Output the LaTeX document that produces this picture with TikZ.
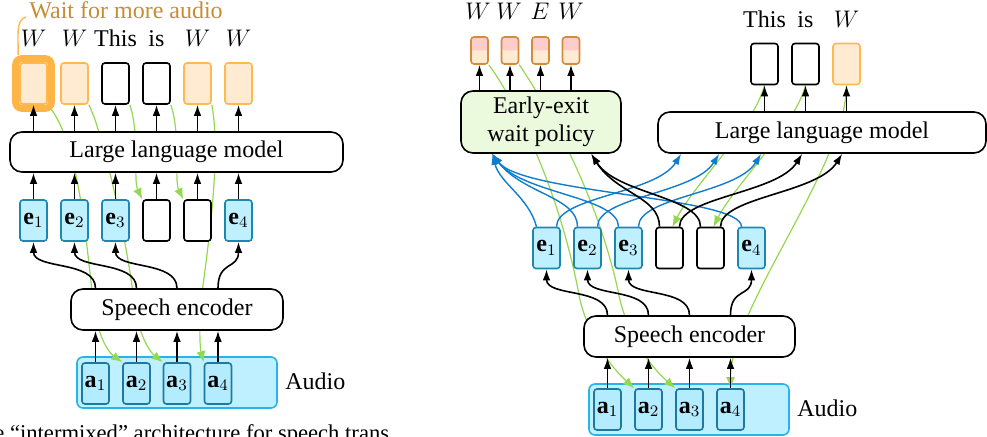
\documentclass[tikz,border=0pt]{standalone}
\usepackage{fontspec}
\setmainfont{Liberation Serif}
\usetikzlibrary{arrows.meta,fit,calc}
\pgfdeclarelayer{bottom}
\pgfdeclarelayer{greenl}
\pgfsetlayers{bottom,greenl,main}
\definecolor{orF}{HTML}{FFEBD2}
\definecolor{orB}{HTML}{FFB950}
\definecolor{haloC}{HTML}{FFB446}
\definecolor{waitC}{HTML}{C88C32}
\definecolor{eF}{HTML}{BEF0FF}
\definecolor{eB}{HTML}{1E87AF}
\definecolor{audF}{HTML}{BEF0FF}
\definecolor{audB}{HTML}{28B4E6}
\definecolor{aF}{HTML}{B4ECFF}
\definecolor{aB}{HTML}{1E78A0}
\definecolor{gC}{HTML}{96D750}
\definecolor{bC}{HTML}{0F7DCD}
\definecolor{polF}{HTML}{EBFADC}
\definecolor{pinkF}{HTML}{FFCCCC}
\definecolor{pB}{HTML}{D28C3C}
\begin{document}
\begin{tikzpicture}[x=0.5pt,y=-0.5pt, font=\fontsize{12}{14}\selectfont,
  tok/.style={rounded corners=1.5pt, minimum width=13.5pt, minimum height=20.5pt, inner sep=0pt, line width=0.8pt},
  wtok/.style={tok, draw=orB, fill=orF},
  btok/.style={tok, draw=black, fill=white},
  etok/.style={tok, draw=eB, fill=eF},
  atok/.style={tok, draw=aB, fill=aF},
  ptok/.style={rounded corners=1.5pt, minimum width=8.5pt, minimum height=13.5pt, inner sep=0pt, line width=0.8pt, draw=pB, fill=orF,
    path picture={\fill[pinkF] (path picture bounding box.north west) rectangle (path picture bounding box.east);}},
  bigbox/.style={draw, rounded corners=6pt, line width=0.8pt, fill=white, inner sep=0pt},
  audbox/.style={draw=audB, fill=audF, rounded corners=3pt, line width=0.8pt, minimum width=100pt, minimum height=25.5pt},
  lbl/.style={anchor=base, inner sep=0pt},
  arr/.style={-{Latex[length=5.5pt,width=3.8pt]}, line width=0.8pt},
  garr/.style={-{Latex[length=5.5pt,width=4.5pt]}, line width=0.6pt, draw=gC},
  barr/.style={-{Latex[length=5.5pt,width=3.8pt]}, line width=0.7pt, draw=bC},
]
\useasboundingbox (0,0) rectangle (987,437);
\clip (0,0) rectangle (987,437);

% ================= LEFT =================
\node[wtok] (lo1) at (33.5,83.5) {};
\node[wtok] (lo2) at (74.5,83.5) {};
\node[btok] (lo3) at (115.5,83.5) {};
\node[btok] (lo4) at (156.5,83.5) {};
\node[wtok] (lo5) at (197.5,83.5) {};
\node[wtok] (lo6) at (238.5,83.5) {};
\node[fit=(lo1), inner sep=1.75pt, draw=haloC, line width=3.5pt, rounded corners=3pt] (halo) {};

\node[lbl] (lt1) at (33.5,47) {$W$};
\node[lbl] (lt2) at (74.5,47) {$W$};
\node[lbl] (lt3) at (115.5,47) {This};
\node[lbl] (lt4) at (156.5,47) {is};
\node[lbl] (lt5) at (197.5,47) {$W$};
\node[lbl] (lt6) at (238.5,47) {$W$};

\node[anchor=base west, inner sep=0pt, text=waitC] (wait) at (29,19) {Wait for more audio};
\draw[orB, line width=0.7pt] ([shift={(-1.5pt,1pt)}]wait.base west) .. controls +(-10,3) and +(0,-22) .. ([xshift=3pt]halo.north west);

\node[bigbox, minimum width=166.5pt, minimum height=20pt] (llmL) at (176.5,152) {Large language model};

\node[etok] (le1) at (33.5,220.5) {$\mathbf{e}_1$};
\node[etok] (le2) at (74.5,220.5) {$\mathbf{e}_2$};
\node[etok] (le3) at (115.5,220.5) {$\mathbf{e}_3$};
\node[btok] (lb4) at (156.5,220.5) {};
\node[btok] (lb5) at (197.5,220.5) {};
\node[etok] (le4) at (238.5,220.5) {$\mathbf{e}_4$};

\node[bigbox, minimum width=106pt, minimum height=20.5pt] (encL) at (177,309.5) {Speech encoder};

\begin{pgfonlayer}{bottom}
\node[audbox] (audL) at (177,382.5) {};
\node[audbox] (audR) at (689,409.5) {};
\end{pgfonlayer}
\node[atok] (la1) at (95.5,383.5) {$\mathbf{a}_1$};
\node[atok] (la2) at (136.5,383.5) {$\mathbf{a}_2$};
\node[atok] (la3) at (177,383.5) {$\mathbf{a}_3$};
\node[atok] (la4) at (218,383.5) {$\mathbf{a}_4$};
\node[anchor=west, inner sep=0pt] (audLblL) at (285,381) {Audio};

\foreach \i in {1,2,3,4} {
  \draw[arr] (la\i.north) -- (la\i.north |- encL.south);
  \draw[arr] (la\i.north |- encL.north) .. controls +(0,-28) and +(0,28) .. (le\i.south);
}
\foreach \n in {le1,le2,le3,lb4,lb5,le4} {
  \draw[arr] (\n.north) -- (\n.north |- llmL.south);
}
\foreach \n in {lo1,lo2,lo3,lo4,lo5,lo6} {
  \draw[arr] (\n.south |- llmL.north) -- (\n.south);
}

\begin{pgfonlayer}{greenl}
\draw[garr] (lo1.south east) .. controls (78,140) and (85,230) .. (93,300) .. controls (97,335) and (108,352) .. (la2.north west);
\draw[garr] (lo2.south east) .. controls (102,130) and (125,230) .. (134,300) .. controls (138,335) and (150,352) .. (la3.north west);
\draw[garr] (lo3.south east) .. controls (140,135) and (133,180) .. (lb4.north west);
\draw[garr] (lo4.south east) .. controls (181,135) and (174,180) .. (lb5.north west);
\draw[garr] (lo5.south east) .. controls (220,150) and (212,220) .. (201,300) .. controls (199,330) and (200,348) .. (la4.north west);
\end{pgfonlayer}

% ================= RIGHT =================
\node[ptok] (p1) at (479.5,50.5) {};
\node[ptok] (p2) at (510,50.5) {};
\node[ptok] (p3) at (540.5,50.5) {};
\node[ptok] (p4) at (571,50.5) {};
\node[lbl] (pt1) at (478,20) {$W$};
\node[lbl] (pt2) at (509,20) {$W$};
\node[lbl] (pt3) at (540,20) {$E$};
\node[lbl] (pt4) at (571,20) {$W$};

\node[bigbox, fill=polF, minimum width=80pt, minimum height=31pt, align=center] (pol) at (541,122) {Early-exit\\wait policy};
\foreach \n in {p1,p2,p3,p4} {
  \draw[arr] (\n.south |- pol.north) -- (\n.south);
}

\node[bigbox, minimum width=164pt, minimum height=20.5pt] (llmR) at (822,132.5) {Large language model};
\node[btok] (ro1) at (764.5,64) {};
\node[btok] (ro2) at (805.5,64) {};
\node[wtok] (ro3) at (846.5,64) {};
\node[lbl] (rt1) at (764.5,28) {This};
\node[lbl] (rt2) at (805.5,28) {is};
\node[lbl] (rt3) at (846.5,28) {$W$};
\foreach \n in {ro1,ro2,ro3} {
  \draw[arr] (\n.south |- llmR.north) -- (\n.south);
}

\node[etok] (re1) at (546.5,248) {$\mathbf{e}_1$};
\node[etok] (re2) at (587.5,248) {$\mathbf{e}_2$};
\node[etok] (re3) at (628.5,248) {$\mathbf{e}_3$};
\node[btok] (rb1) at (669.5,248) {};
\node[btok] (rb2) at (710.5,248) {};
\node[etok] (re4) at (751.5,248) {$\mathbf{e}_4$};

\node[bigbox, minimum width=105.5pt, minimum height=20.5pt] (encR) at (689.5,336.5) {Speech encoder};
\node[atok] (ra1) at (607.5,409.5) {$\mathbf{a}_1$};
\node[atok] (ra2) at (648.5,409.5) {$\mathbf{a}_2$};
\node[atok] (ra3) at (689.5,409.5) {$\mathbf{a}_3$};
\node[atok] (ra4) at (730.5,409.5) {$\mathbf{a}_4$};
\node[anchor=west, inner sep=0pt] (audLblR) at (797,408) {Audio};

\foreach \i in {1,2,3,4} {
  \draw[arr] (ra\i.north) -- (ra\i.north |- encR.south);
  \draw[arr] (ra\i.north |- encR.north) .. controls +(0,-28) and +(0,28) .. (re\i.south);
}

\coordinate (polB) at ([xshift=16pt]pol.south west);
\coordinate (polK) at ([xshift=65.5pt]pol.south west);
\coordinate (in1) at ([xshift=12pt]llmR.south west);
\coordinate (in2) at ([xshift=31pt]llmR.south west);
\coordinate (in3) at ([xshift=52pt]llmR.south west);
\coordinate (in4) at ([xshift=72.5pt]llmR.south west);
\coordinate (in5) at ([xshift=92.5pt]llmR.south west);

\draw[barr] ([xshift=-5pt]re1.north) .. controls +(-8,-30) and +(8,30) .. (polB);
\foreach \n in {re2,re3,re4} {
  \draw[barr] ([xshift=-5pt]\n.north) .. controls +(0,-30) and +(30,40) .. (polB);
}
\draw[barr] ([xshift=5pt]re1.north) .. controls +(0,-30) and +(-25,40) .. (in1);
\draw[barr] ([xshift=5pt]re2.north) .. controls +(0,-30) and +(-25,40) .. (in2);
\draw[barr] ([xshift=5pt]re3.north) .. controls +(0,-30) and +(-25,40) .. (in3);
\draw[arr] ([xshift=-5pt]rb1.north) .. controls +(0,-30) and +(25,40) .. (polK);
\draw[arr] ([xshift=-5pt]rb2.north) .. controls +(0,-30) and +(25,40) .. (polK);
\draw[arr] ([xshift=5pt]rb1.north) .. controls +(0,-30) and +(-25,40) .. (in4);
\draw[arr] ([xshift=5pt]rb2.north) .. controls +(0,-30) and +(-25,40) .. (in5);

\begin{pgfonlayer}{greenl}
\draw[garr] (ro1.south) .. controls +(-10,40) and +(20,-40) .. ([xshift=1.5pt]rb1.north);
\draw[garr] (ro2.south) .. controls +(-10,40) and +(20,-40) .. ([xshift=1.5pt]rb2.north);
\draw[garr] (ro3.south) .. controls +(0,80) and +(0,-80) .. (ra4.north);
\draw[garr] (p1.south east) .. controls (515,100) and (560,190) .. (580,300) .. controls (590,340) and (612,368) .. (ra2.north west);
\draw[garr] (p2.south east) .. controls (550,110) and (600,200) .. (620,300) .. controls (630,340) and (652,368) .. (ra3.north west);
\end{pgfonlayer}

\node[anchor=base west, inner sep=0pt, font=\fontsize{11.3}{13}\selectfont] (cap) at (-6,441) {e “intermixed” architecture for speech trans};
\end{tikzpicture}
\end{document}
